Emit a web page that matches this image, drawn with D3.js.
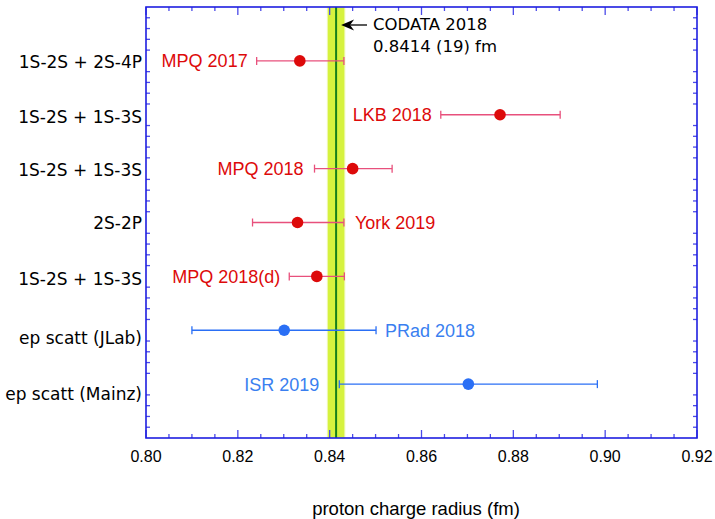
<!DOCTYPE html>
<html>
    <head>
        <title>Proton charge radius</title>
        <meta charset="UTF-8">
        <script src="https://cdn.jsdelivr.net/npm/d3@7"></script>
        <style>
            body { margin: 0; background: #fff; }
        </style>
    </head>
    <body>
        <script>
            // measurements, top to bottom
            var categories = ["1S-2S + 2S-4P", "1S-2S + 1S-3S", "1S-2S + 1S-3S", "2S-2P",
                              "1S-2S + 1S-3S", "ep scatt (JLab)", "ep scatt (Mainz)"];
            var labels = ["MPQ 2017", "LKB 2018", "MPQ 2018", "York 2019", "MPQ 2018(d)", "PRad 2018", "ISR 2019"];
            var radius = [0.8335, 0.8771, 0.8450, 0.8330, 0.8372, 0.8301, 0.8702];
            var errLow = [0.8241, 0.8642, 0.8367, 0.8232, 0.8312, 0.8100, 0.8421];
            var errHigh = [0.8431, 0.8902, 0.8536, 0.8431, 0.8432, 0.8501, 0.8983];
            var kind = ["H", "H", "H", "H", "H", "e", "e"];
            var codata = 0.8414, codataErr = 0.0019;
            var xTicks = [0.80, 0.82, 0.84, 0.86, 0.88, 0.90, 0.92];

            // label layout (styling only)
            var labelSide = ["left", "left", "left", "right", "left", "right", "left"];
            var labelGap = [9, 9, 11, 11, 9, 9, 20];
            var catDy = [1.5, 2.5, 1, 0, 3, 8, 10];

            var W = 715, H = 519;
            var pL = 146, pR = 697, pT = 7, pB = 438;
            var frame = "#1f1fe0", tickCol = "#4a4ae8";
            var red = "#dd0a0a", redBar = "#e8507c", blue = "#2a6ff5";
            var sans = "'Liberation Sans', Arial, sans-serif";
            var lucida = "'DejaVu Sans', sans-serif";

            var x = d3.scaleLinear().domain([0.80, 0.92]).range([pL, pR]);
            var y = d3.scaleLinear().domain([0, categories.length + 1]).range([pT, pB]);

            var svg = d3.select("body").append("svg")
                    .attr("width", W).attr("height", H);

            // CODATA band
            svg.append("rect")
                    .attr("x", x(codata - codataErr))
                    .attr("y", pT)
                    .attr("width", x(codata + codataErr) - x(codata - codataErr))
                    .attr("height", pB - pT)
                    .attr("fill", "#d6f23e")
                    .attr("stroke", "#eef8b0")
                    .attr("stroke-width", 1);
            svg.append("line")
                    .attr("x1", x(codata)).attr("x2", x(codata))
                    .attr("y1", pT).attr("y2", pB)
                    .attr("stroke", "#15801a").attr("stroke-width", 2);

            // ticks (inward)
            var minorX = d3.range(0, 25).map(function(i){ return 0.80 + i * 0.005; });
            var ticks = svg.append("g").attr("stroke", tickCol).attr("stroke-width", 1.3);
            minorX.forEach(function(v, i){
                var len = (i % 4 === 0) ? 8 : 4;
                ticks.append("line").attr("x1", x(v)).attr("x2", x(v))
                        .attr("y1", pB).attr("y2", pB - len);
                ticks.append("line").attr("x1", x(v)).attr("x2", x(v))
                        .attr("y1", pT).attr("y2", pT + len);
            });
            var minorY = d3.range(1, 40).filter(function(i){ return i % 5 !== 0; })
                    .map(function(i){ return i * 0.2; });
            minorY.forEach(function(v){
                ticks.append("line").attr("x1", pL).attr("x2", pL + 4)
                        .attr("y1", y(v)).attr("y2", y(v));
                ticks.append("line").attr("x1", pR).attr("x2", pR - 4)
                        .attr("y1", y(v)).attr("y2", y(v));
            });

            // frame
            svg.append("rect")
                    .attr("x", pL).attr("y", pT)
                    .attr("width", pR - pL).attr("height", pB - pT)
                    .attr("fill", "none").attr("stroke", frame).attr("stroke-width", 1.6);

            // x tick labels
            svg.selectAll("text.xt")
                    .data(xTicks)
                    .enter()
                    .append("text")
                    .attr("class", "xt")
                    .attr("x", function(d){ return x(d); })
                    .attr("y", 462)
                    .attr("text-anchor", "middle")
                    .attr("font-family", sans).attr("font-size", 16)
                    .text(function(d){ return d3.format(".2f")(d); });

            svg.append("text")
                    .attr("x", 416).attr("y", 515)
                    .attr("text-anchor", "middle")
                    .attr("font-family", sans).attr("font-size", 18.5)
                    .text("proton charge radius (fm)");

            // category labels
            svg.selectAll("text.cat")
                    .data(categories)
                    .enter()
                    .append("text")
                    .attr("class", "cat")
                    .attr("x", 142)
                    .attr("y", function(d, i){ return y(i + 1) + catDy[i]; })
                    .attr("dy", "0.36em")
                    .attr("text-anchor", "end")
                    .attr("font-family", lucida).attr("font-size", 17)
                    .text(function(d){ return d; });

            // error bars
            var idx = d3.range(categories.length);
            var bars = svg.append("g");
            idx.forEach(function(i){
                var c = kind[i] === "H" ? redBar : blue;
                var yy = y(i + 1);
                bars.append("line").attr("x1", x(errLow[i])).attr("x2", x(errHigh[i]))
                        .attr("y1", yy).attr("y2", yy)
                        .attr("stroke", c).attr("stroke-width", 1.3);
                [errLow[i], errHigh[i]].forEach(function(v){
                    bars.append("line").attr("x1", x(v)).attr("x2", x(v))
                            .attr("y1", yy - 4).attr("y2", yy + 4)
                            .attr("stroke", c).attr("stroke-width", 1.3);
                });
            });

            svg.selectAll("circle")
                    .data(radius)
                    .enter()
                    .append("circle")
                    .attr("cx", function(d){ return x(d); })
                    .attr("cy", function(d, i){ return y(i + 1); })
                    .attr("r", 5.8)
                    .attr("fill", function(d, i){ return kind[i] === "H" ? red : blue; });

            svg.selectAll("text.lab")
                    .data(labels)
                    .enter()
                    .append("text")
                    .attr("class", "lab")
                    .attr("x", function(d, i){
                        return labelSide[i] === "left" ? x(errLow[i]) - labelGap[i] : x(errHigh[i]) + labelGap[i];
                    })
                    .attr("y", function(d, i){ return y(i + 1); })
                    .attr("dy", "0.36em")
                    .attr("text-anchor", function(d, i){ return labelSide[i] === "left" ? "end" : "start"; })
                    .attr("font-family", sans).attr("font-size", 18)
                    .attr("fill", function(d, i){ return kind[i] === "H" ? red : "#3a7ff0"; })
                    .text(function(d){ return d; });

            // CODATA annotation
            var ay = 25;
            svg.append("line")
                    .attr("x1", x(codata) + 14).attr("x2", 367)
                    .attr("y1", ay).attr("y2", ay)
                    .attr("stroke", "#000").attr("stroke-width", 1.3);
            svg.append("path")
                    .attr("d", "M" + (x(codata) + 5) + "," + ay + " l13,-5.5 l-4,5.5 l4,5.5 z")
                    .attr("fill", "#000");
            svg.append("text")
                    .attr("x", 373).attr("y", 30)
                    .attr("font-family", lucida).attr("font-size", 16.5)
                    .text("CODATA 2018");
            svg.append("text")
                    .attr("x", 373).attr("y", 52)
                    .attr("font-family", lucida).attr("font-size", 16.5)
                    .text("0.8414 (19) fm");
        </script>
    </body>
</html>
